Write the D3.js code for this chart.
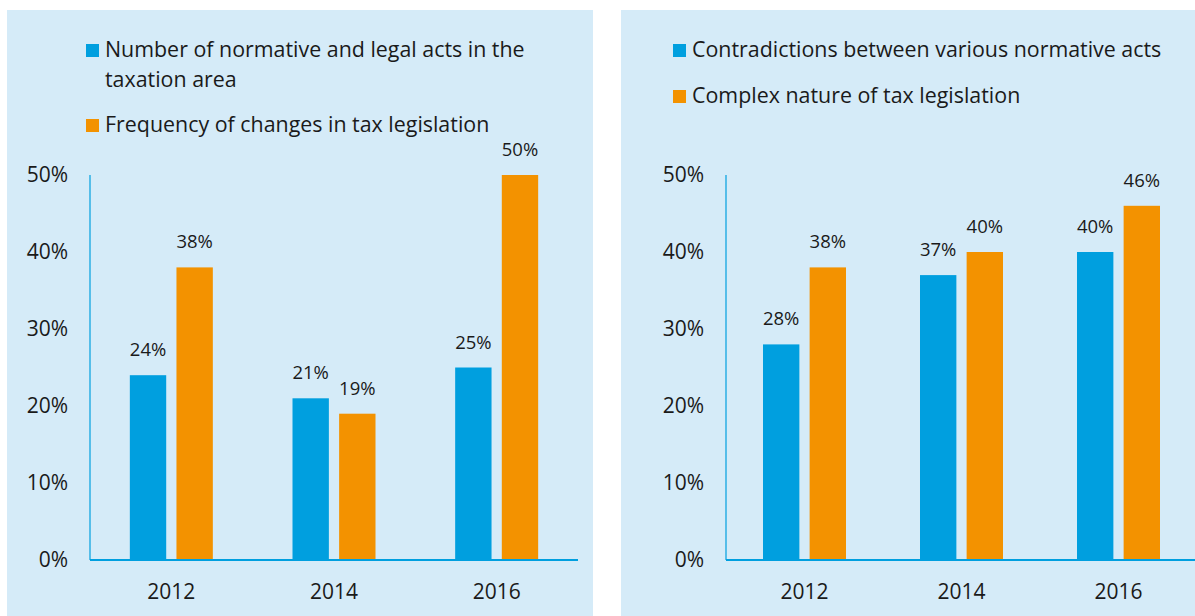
<!DOCTYPE html>
<html>
<head>
<meta charset="utf-8">
<script src="https://cdn.jsdelivr.net/npm/d3@7"></script>
<style>
  html, body { margin: 0; padding: 0; background: #ffffff; }
  svg { display: block; }
  text { font-family: "Open Sans", Lato, sans-serif; fill: #1a1a1a; }
</style>
</head>
<body>
<svg id="chart" width="1195" height="616"></svg>
<script>
const years = ["2012", "2014", "2016"];
const yTicks = [0, 10, 20, 30, 40, 50];

const leftSeriesNames = ["Number of normative and legal acts in the taxation area", "Frequency of changes in tax legislation"];
const leftBlue = [24, 21, 25];
const leftOrange = [38, 19, 50];

const rightSeriesNames = ["Contradictions between various normative acts", "Complex nature of tax legislation"];
const rightBlue = [28, 37, 40];
const rightOrange = [38, 40, 46];

const BLUE = "#009fdf";
const ORANGE = "#f39200";
const BG = "#d5ebf8";

const svg = d3.select("#chart");

function panel(cfg) {
  const g = svg.append("g");
  g.append("rect").attr("x", cfg.px).attr("y", 10).attr("width", cfg.pw).attr("height", 606).attr("fill", BG);

  const y = d3.scaleLinear().domain([0, 50]).range([560, 175]);
  const x = d3.scaleBand().domain(years).range([cfg.ax0, cfg.ax1]);
  const inner = d3.scaleBand().domain(["a", "b"]).range([0, 83]).paddingInner(0.22);

  g.append("line").attr("x1", cfg.ax0).attr("x2", cfg.ax0).attr("y1", y(50)).attr("y2", y(0))
    .attr("stroke", BLUE).attr("stroke-width", 1.2);
  g.selectAll(".yt").data(yTicks).join("text")
    .attr("x", cfg.ax0 - 22).attr("y", d => y(d) + 7)
    .attr("text-anchor", "end").attr("font-size", 21)
    .text(d => d + "%");

  const data = years.map((yr, i) => ({ yr, a: cfg.blue[i], b: cfg.orange[i] }));
  const groups = g.selectAll(".grp").data(data).join("g")
    .attr("transform", d => `translate(${x(d.yr) + x.bandwidth() / 2 - 41.5},0)`);
  [["a", BLUE], ["b", ORANGE]].forEach(([k, c]) => {
    groups.append("rect")
      .attr("x", inner(k)).attr("width", inner.bandwidth())
      .attr("y", d => y(d[k])).attr("height", d => y(0) - y(d[k]))
      .attr("fill", c);
    groups.append("text")
      .attr("x", inner(k) + inner.bandwidth() / 2)
      .attr("y", d => y(d[k]) - 19)
      .attr("text-anchor", "middle").attr("font-size", 18.5)
      .text(d => d[k] + "%");
  });

  g.append("line").attr("x1", cfg.ax0).attr("x2", cfg.ax1).attr("y1", y(0)).attr("y2", y(0))
    .attr("stroke", BLUE).attr("stroke-width", 2);
  g.selectAll(".xt").data(years).join("text")
    .attr("x", d => x(d) + x.bandwidth() / 2).attr("y", 599)
    .attr("text-anchor", "middle").attr("font-size", 21)
    .text(d => d);

  cfg.legend.forEach((item, i) => {
    g.append("rect").attr("x", cfg.lx).attr("y", item.y - 13).attr("width", 13).attr("height", 13)
      .attr("fill", i === 0 ? BLUE : ORANGE);
    const t = g.append("text").attr("x", cfg.lx + 19).attr("y", item.y).attr("font-size", 21.4);
    item.lines.forEach((ln, j) => {
      t.append("tspan").attr("x", cfg.lx + 19).attr("dy", j === 0 ? 0 : 29.5).text(ln);
    });
  });
}

panel({
  px: 7, pw: 586, ax0: 90, ax1: 578,
  blue: leftBlue, orange: leftOrange,
  lx: 86,
  legend: [
    { y: 57, lines: ["Number of normative and legal acts in the", "taxation area"] },
    { y: 132, lines: [leftSeriesNames[1]] }
  ]
});
panel({
  px: 621, pw: 574, ax0: 726, ax1: 1197,
  blue: rightBlue, orange: rightOrange,
  lx: 673,
  legend: [
    { y: 57, lines: [rightSeriesNames[0]] },
    { y: 103, lines: [rightSeriesNames[1]] }
  ]
});
</script>
</body>
</html>
